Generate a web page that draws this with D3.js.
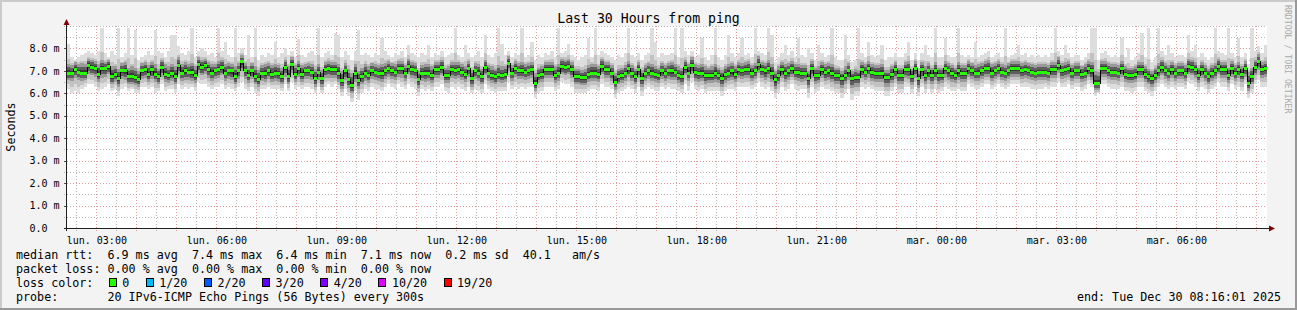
<!DOCTYPE html>
<html>
<head>
<meta charset="utf-8">
<script src="https://cdn.jsdelivr.net/npm/d3@7"></script>
<style>
html, body { margin: 0; padding: 0; background: #f3f3f3; }
svg { display: block; }
text { font-family: "DejaVu Sans Mono", monospace; white-space: pre; }
</style>
</head>
<body>
<div id="container"></div>
<script>
const WIDTH = 1297;
const HEIGHT = 310;
const PLOT_LEFT = 67;
const PLOT_RIGHT = 1267;
const PLOT_TOP = 26;
const PLOT_BOTTOM = 228;

// ---- data ----
const endTime = "2025-12-30T08:16:01Z";
const stepSeconds = 300;

// median rtt per 300s sample, ms
const medianRtt = [
  6.9,6.9,7.05,6.95,6.9,6.9,7.25,7.15,7.1,6.85,
  7.1,7.1,7.2,6.75,6.85,6.65,7.0,7.0,6.75,6.75,
  6.7,6.6,7.0,7.05,6.85,7.05,6.85,6.75,7.15,6.85,
  6.8,6.9,6.75,7.25,6.9,7.0,6.95,6.95,6.8,7.3,
  7.15,7.25,7.05,6.9,7.0,7.05,7.15,6.9,7.0,7.0,
  6.75,7.0,7.4,7.0,6.8,7.0,6.75,6.6,6.9,6.9,
  7.0,6.85,6.9,6.9,6.75,7.15,6.75,7.3,6.85,7.1,
  6.85,7.0,7.0,6.95,6.65,6.95,6.65,7.05,7.1,7.05,
  7.05,6.9,6.55,7.0,6.6,6.35,6.9,6.55,6.75,6.9,
  6.8,7.0,6.95,6.9,6.9,7.0,7.1,7.0,6.95,7.1,
  7.1,6.9,7.2,7.05,7.0,6.6,6.9,6.9,6.9,6.8,
  7.05,7.05,7.15,6.8,6.8,7.05,7.0,7.05,6.95,6.85,
  7.1,6.65,7.0,6.9,6.75,7.15,6.9,6.8,6.75,6.85,
  6.8,6.85,7.35,6.9,7.1,7.0,7.0,6.95,7.0,7.05,
  6.45,6.8,6.85,7.05,7.05,7.05,6.8,6.9,7.2,7.15,
  7.2,7.05,6.75,6.75,6.7,6.7,6.85,6.9,6.9,6.85,
  7.2,7.05,7.05,6.9,6.5,6.75,6.8,6.9,7.1,6.9,
  6.75,7.05,6.65,6.9,7.0,6.9,6.85,6.8,7.0,6.9,
  7.0,7.0,6.95,6.8,6.75,7.15,6.9,7.25,6.95,6.9,
  6.9,6.8,6.8,6.8,6.9,6.8,6.65,6.85,6.9,7.0,
  6.85,7.05,7.0,7.05,7.05,6.9,7.0,7.3,7.05,7.0,
  7.1,6.9,6.6,6.8,7.05,6.9,7.0,7.1,6.95,6.95,
  6.9,6.9,6.65,7.1,6.8,6.8,7.05,6.95,7.0,6.9,
  6.8,6.8,6.65,6.8,7.0,6.65,6.7,6.7,7.05,6.95,
  7.1,6.95,6.9,6.9,6.9,6.7,6.7,6.85,7.05,6.8,
  6.8,7.05,7.05,6.75,7.1,6.65,7.05,6.8,7.0,6.8,
  7.0,6.8,6.8,7.1,7.0,6.9,6.8,7.0,6.9,6.9,
  7.1,7.0,6.9,6.9,7.0,7.1,7.1,6.9,7.0,7.1,
  6.95,6.9,7.0,7.1,7.1,7.1,7.0,7.05,7.0,6.95,
  6.9,6.95,6.95,6.95,6.9,7.05,7.05,7.25,7.0,7.05,
  7.1,6.9,7.0,7.0,6.85,6.9,7.1,7.0,6.45,6.45,
  7.1,7.1,7.0,6.95,6.95,6.9,7.1,6.85,6.8,6.8,
  6.85,7.05,7.05,6.85,6.75,6.65,6.8,7.0,7.15,7.0,
  6.9,7.05,6.9,7.0,7.0,6.9,7.2,7.15,7.05,6.8,
  7.05,6.9,6.75,6.9,7.0,7.2,7.05,7.05,6.8,7.1,
  6.9,7.05,6.85,7.1,6.45,6.75,7.15,7.4,7.05,7.1
];

// slowest ping of each sample, ms
const maxRtt = [
  8.2,7.6,7.5,7.6,7.7,7.8,7.9,7.8,7.7,7.9,
  8.9,7.8,7.6,7.9,7.7,8.9,7.6,7.8,8.9,7.7,
  8.8,7.5,7.6,7.7,7.9,7.7,8.8,7.9,7.8,7.6,
  7.9,8.6,8.6,8.1,7.8,7.7,7.9,8.9,7.6,7.9,
  8.0,7.9,7.7,7.8,7.6,8.9,7.9,8.3,7.7,7.6,
  8.9,7.8,8.0,7.7,8.6,7.6,8.9,7.5,7.7,7.6,
  7.8,7.7,8.3,7.6,7.8,8.0,7.7,7.9,7.6,8.4,
  7.7,7.6,7.8,7.9,7.7,8.9,7.6,7.8,7.9,7.7,
  8.7,8.6,7.6,7.9,7.7,7.5,7.9,8.8,7.7,7.8,
  7.7,7.6,7.8,7.7,8.45,7.9,7.7,7.6,7.8,7.7,
  7.9,7.6,8.15,7.8,7.7,7.6,7.8,7.7,8.15,7.6,
  7.8,7.7,7.9,7.6,7.7,7.8,8.9,7.7,7.6,8.15,
  7.8,7.6,7.7,7.9,7.6,8.6,7.7,7.6,7.8,8.9,
  8.2,7.7,7.9,7.6,7.8,7.7,8.9,7.6,7.7,8.3,
  7.5,7.7,7.6,7.8,7.7,7.9,7.6,8.9,7.8,7.9,
  8.2,7.7,7.6,7.5,7.6,7.7,8.45,7.6,8.9,7.7,
  7.9,7.8,7.7,7.6,7.5,7.7,7.6,7.8,8.9,7.7,
  7.6,7.8,7.5,7.7,7.8,8.9,8.3,7.6,7.8,7.7,
  7.7,7.8,8.9,7.6,8.9,7.9,7.7,7.9,7.6,7.7,
  8.45,7.6,7.5,7.7,8.9,7.6,7.5,7.7,8.6,7.8,
  7.6,7.8,8.45,7.7,7.8,7.6,8.9,7.9,7.8,7.7,
  8.9,8.6,7.4,7.6,7.8,8.15,7.7,7.9,7.6,8.45,
  7.7,7.6,8.0,7.8,7.5,8.15,7.8,7.6,7.7,8.9,
  7.6,7.5,7.5,8.6,7.7,7.4,7.5,8.9,7.8,7.6,
  8.3,7.7,7.6,7.7,8.15,7.5,7.6,7.6,7.8,7.6,
  7.6,7.8,8.3,7.5,7.8,7.5,7.8,8.15,7.7,7.6,
  8.9,7.6,7.6,8.45,7.7,7.6,7.6,8.9,7.7,7.6,
  7.7,7.6,8.3,7.6,7.7,7.8,7.9,7.6,7.7,7.8,
  7.6,8.9,7.6,7.7,7.8,8.15,7.7,7.8,7.6,7.7,
  7.6,7.7,7.6,7.7,7.6,7.8,8.9,7.9,7.7,8.15,
  7.8,7.6,7.7,7.7,7.5,7.6,7.8,8.9,8.9,7.5,
  7.8,7.9,7.7,7.6,7.7,7.6,8.45,7.6,8.0,7.5,
  7.6,7.8,8.7,7.6,8.9,7.4,7.6,8.9,7.9,7.7,
  8.15,7.8,7.6,7.7,7.7,7.6,8.6,7.9,8.15,7.6,
  7.8,7.6,7.5,7.6,8.9,7.9,7.8,7.7,8.9,7.8,
  7.6,8.45,7.6,7.8,7.3,8.9,7.9,8.1,7.8,8.15
];

// upper edge of the dense smoke, ms
const highRtt = [
  7.3,7.25,7.4,7.3,7.35,7.3,7.55,7.5,7.45,7.3,
  7.5,7.4,7.5,7.2,7.2,7.1,7.35,7.4,7.15,7.2,
  7.15,7.0,7.35,7.4,7.25,7.4,7.3,7.1,7.5,7.3,
  7.2,7.3,7.2,7.6,7.3,7.4,7.3,7.35,7.2,7.6,
  7.5,7.55,7.4,7.3,7.3,7.45,7.5,7.3,7.35,7.3,
  7.2,7.35,7.7,7.35,7.2,7.35,7.2,7.05,7.25,7.3,
  7.35,7.25,7.3,7.25,7.15,7.5,7.2,7.6,7.25,7.45,
  7.25,7.3,7.35,7.3,7.1,7.3,7.05,7.4,7.45,7.4,
  7.4,7.3,7.0,7.35,7.1,6.9,7.3,7.0,7.15,7.3,
  7.2,7.35,7.3,7.25,7.3,7.35,7.45,7.35,7.3,7.45,
  7.45,7.25,7.55,7.4,7.35,7.0,7.25,7.3,7.3,7.2,
  7.4,7.4,7.5,7.15,7.2,7.4,7.4,7.4,7.3,7.2,
  7.45,7.05,7.35,7.3,7.1,7.5,7.25,7.2,7.1,7.25,
  7.2,7.2,7.65,7.25,7.45,7.35,7.4,7.3,7.35,7.4,
  6.9,7.15,7.2,7.4,7.4,7.4,7.2,7.3,7.55,7.5,
  7.55,7.4,7.1,7.1,7.05,7.1,7.25,7.3,7.3,7.2,
  7.55,7.4,7.4,7.25,6.9,7.1,7.15,7.25,7.45,7.25,
  7.1,7.4,7.05,7.25,7.35,7.3,7.2,7.15,7.35,7.25,
  7.35,7.4,7.3,7.2,7.15,7.5,7.3,7.6,7.3,7.25,
  7.3,7.2,7.15,7.2,7.3,7.15,7.05,7.2,7.3,7.35,
  7.2,7.4,7.35,7.4,7.45,7.25,7.35,7.65,7.4,7.35,
  7.5,7.3,7.0,7.2,7.4,7.3,7.35,7.45,7.3,7.3,
  7.25,7.25,7.0,7.45,7.15,7.2,7.4,7.3,7.35,7.3,
  7.15,7.15,7.0,7.2,7.35,7.0,7.1,7.05,7.4,7.3,
  7.45,7.3,7.25,7.25,7.3,7.05,7.05,7.2,7.4,7.15,
  7.15,7.4,7.45,7.1,7.45,7.0,7.4,7.2,7.35,7.15,
  7.4,7.15,7.15,7.45,7.35,7.25,7.15,7.4,7.25,7.25,
  7.45,7.35,7.25,7.3,7.35,7.45,7.5,7.3,7.35,7.45,
  7.3,7.25,7.35,7.45,7.45,7.45,7.35,7.4,7.35,7.3,
  7.25,7.3,7.3,7.3,7.25,7.4,7.4,7.6,7.35,7.4,
  7.45,7.25,7.35,7.35,7.2,7.3,7.45,7.4,7.0,6.95,
  7.45,7.45,7.35,7.3,7.3,7.25,7.45,7.2,7.15,7.15,
  7.2,7.4,7.4,7.2,7.1,7.0,7.15,7.35,7.5,7.35,
  7.25,7.4,7.25,7.35,7.35,7.25,7.55,7.5,7.4,7.15,
  7.4,7.25,7.1,7.25,7.35,7.55,7.4,7.4,7.15,7.45,
  7.25,7.4,7.2,7.45,6.95,7.15,7.5,7.75,7.4,7.45
];

// lower edge of the dense smoke, ms
const lowRtt = [
  6.6,6.55,6.7,6.6,6.55,6.6,6.85,6.8,6.75,6.5,
  6.7,6.75,6.85,6.4,6.5,6.3,6.65,6.6,6.4,6.4,
  6.35,6.3,6.65,6.7,6.5,6.65,6.5,6.4,6.75,6.5,
  6.45,6.55,6.4,6.85,6.55,6.6,6.6,6.55,6.45,6.9,
  6.8,6.85,6.7,6.55,6.65,6.7,6.8,6.55,6.65,6.6,
  6.4,6.65,7.0,6.65,6.45,6.65,6.4,6.3,6.55,6.5,
  6.65,6.5,6.55,6.5,6.4,6.75,6.4,6.9,6.5,6.75,
  6.5,6.65,6.65,6.6,6.3,6.6,6.3,6.7,6.7,6.7,
  6.7,6.5,6.2,6.6,6.25,6.0,6.5,6.2,6.4,6.55,
  6.45,6.65,6.6,6.55,6.5,6.65,6.75,6.65,6.6,6.75,
  6.7,6.55,6.85,6.7,6.65,6.25,6.55,6.5,6.55,6.45,
  6.7,6.7,6.8,6.45,6.45,6.7,6.65,6.7,6.6,6.5,
  6.75,6.3,6.65,6.55,6.4,6.8,6.55,6.45,6.4,6.5,
  6.45,6.5,7.0,6.55,6.75,6.65,6.65,6.6,6.65,6.7,
  6.1,6.45,6.5,6.7,6.7,6.7,6.45,6.55,6.85,6.8,
  6.85,6.7,6.4,6.4,6.35,6.35,6.5,6.55,6.55,6.5,
  6.85,6.7,6.7,6.55,6.15,6.4,6.45,6.55,6.75,6.55,
  6.4,6.7,6.3,6.55,6.65,6.55,6.5,6.45,6.65,6.55,
  6.65,6.6,6.6,6.45,6.35,6.8,6.55,6.85,6.55,6.5,
  6.55,6.4,6.45,6.45,6.5,6.45,6.3,6.45,6.55,6.6,
  6.5,6.7,6.65,6.7,6.7,6.55,6.65,6.9,6.7,6.6,
  6.7,6.5,6.2,6.4,6.7,6.5,6.6,6.75,6.6,6.55,
  6.5,6.55,6.25,6.7,6.4,6.45,6.7,6.55,6.6,6.5,
  6.4,6.4,6.25,6.4,6.6,6.25,6.3,6.3,6.7,6.6,
  6.7,6.55,6.5,6.5,6.5,6.3,6.3,6.45,6.65,6.4,
  6.4,6.7,6.65,6.35,6.7,6.25,6.65,6.4,6.6,6.4,
  6.6,6.4,6.45,6.7,6.6,6.5,6.45,6.6,6.5,6.5,
  6.75,6.65,6.55,6.55,6.65,6.75,6.75,6.55,6.65,6.75,
  6.6,6.55,6.65,6.75,6.75,6.75,6.65,6.7,6.65,6.6,
  6.55,6.6,6.6,6.6,6.55,6.7,6.7,6.9,6.65,6.7,
  6.75,6.55,6.65,6.65,6.5,6.55,6.75,6.6,6.15,6.15,
  6.75,6.75,6.65,6.6,6.6,6.55,6.75,6.5,6.45,6.45,
  6.5,6.7,6.7,6.5,6.4,6.3,6.45,6.65,6.8,6.65,
  6.55,6.7,6.55,6.65,6.65,6.55,6.85,6.8,6.7,6.45,
  6.7,6.55,6.4,6.55,6.65,6.85,6.7,6.7,6.45,6.75,
  6.55,6.7,6.5,6.75,6.1,6.4,6.8,7.05,6.7,6.75
];

// fastest ping of each sample, ms
const minRtt = [
  6.2,6.0,6.1,6.0,6.2,6.3,6.4,6.4,6.3,6.1,
  6.2,6.3,6.4,6.1,6.2,5.9,6.2,6.3,6.1,6.2,
  6.0,6.0,6.3,6.3,6.2,6.3,6.0,6.1,6.4,6.1,
  6.2,6.2,6.0,6.4,6.2,6.3,6.2,6.3,6.1,6.5,
  6.4,6.4,6.3,6.2,6.3,6.3,6.4,6.2,6.3,6.2,
  6.1,6.3,6.5,6.2,6.1,6.3,6.0,5.9,6.2,6.2,
  6.3,6.2,6.2,6.2,6.1,6.4,6.1,6.5,6.2,6.3,
  6.2,6.3,6.3,6.2,6.0,6.3,6.0,6.3,6.4,6.3,
  6.4,6.2,5.9,6.2,5.9,5.6,6.1,5.7,6.0,6.2,
  6.1,6.3,6.2,6.2,6.1,6.3,6.4,6.3,6.2,6.4,
  6.3,6.2,6.4,6.3,6.2,5.9,6.2,6.1,6.2,6.1,
  6.3,6.3,6.4,6.1,6.0,6.3,6.2,6.3,6.2,6.1,
  6.3,6.0,6.2,6.1,6.0,6.4,6.2,6.1,6.0,6.1,
  6.1,6.1,6.5,6.2,6.3,6.2,6.3,6.2,6.3,6.3,
  5.8,6.0,6.1,6.3,6.3,6.3,6.1,6.2,6.5,6.4,
  6.4,6.3,6.0,6.0,6.0,6.0,6.1,6.2,6.2,6.1,
  6.4,6.3,6.3,6.2,5.8,6.0,6.1,6.2,6.3,6.2,
  6.0,6.3,5.9,6.2,6.3,6.2,6.1,6.1,6.3,6.2,
  6.3,6.2,6.2,6.1,6.0,6.4,6.1,6.5,6.2,6.1,
  6.2,6.0,6.1,6.1,6.1,6.1,5.9,6.1,6.2,6.2,
  6.1,6.3,6.3,6.3,6.3,6.2,6.3,6.5,6.3,6.2,
  6.3,6.1,5.8,6.0,6.3,6.1,6.2,6.4,6.2,6.1,
  6.2,6.2,5.8,6.3,6.0,6.1,6.3,6.2,6.2,6.1,
  6.0,6.0,5.8,6.0,6.2,5.7,5.9,5.9,6.3,6.2,
  6.3,6.2,6.1,6.1,6.1,5.9,5.9,6.1,6.3,6.0,
  6.0,6.3,6.3,6.0,6.3,5.9,6.3,6.0,6.2,6.0,
  6.2,6.0,6.1,6.3,6.2,6.1,6.1,6.2,6.1,6.1,
  6.4,6.3,6.2,6.2,6.3,6.4,6.4,6.2,6.3,6.4,
  6.3,6.2,6.3,6.4,6.4,6.4,6.3,6.3,6.3,6.2,
  6.2,6.2,6.2,6.3,6.2,6.3,6.3,6.5,6.3,6.3,
  6.4,6.2,6.3,6.3,6.1,6.2,6.4,6.3,5.9,6.0,
  6.4,6.4,6.3,6.2,6.2,6.2,6.3,6.1,6.1,6.0,
  6.1,6.3,6.3,6.1,6.0,5.9,6.1,6.3,6.4,6.3,
  6.2,6.3,6.2,6.3,6.3,6.2,6.5,6.4,6.3,6.1,
  6.3,6.2,6.0,6.2,6.3,6.5,6.3,6.3,6.1,6.4,
  6.2,6.3,6.1,6.4,5.8,6.0,6.4,6.6,6.3,6.3
];

const yTickValues = [0, 1, 2, 3, 4, 5, 6, 7, 8];
const yTickLabels = ["0.0", "1.0 m", "2.0 m", "3.0 m", "4.0 m", "5.0 m", "6.0 m", "7.0 m", "8.0 m"];

const xTickTimes = ["2025-12-29T03:00", "2025-12-29T06:00", "2025-12-29T09:00", "2025-12-29T12:00", "2025-12-29T15:00",
  "2025-12-29T18:00", "2025-12-29T21:00", "2025-12-30T00:00", "2025-12-30T03:00", "2025-12-30T06:00"];
const xTickLabels = ["lun. 03:00", "lun. 06:00", "lun. 09:00", "lun. 12:00", "lun. 15:00",
  "lun. 18:00", "lun. 21:00", "mar. 00:00", "mar. 03:00", "mar. 06:00"];

const lossLabels = ["0", "1/20", "2/20", "3/20", "4/20", "10/20", "19/20"];
const lossColors = ["#26ff00", "#00b8ff", "#0059ff", "#5e00ff", "#7e00ff", "#dd00ff", "#ff0000"];

const titleText = "Last 30 Hours from ping";
const legendLines = [
  "median rtt:  6.9 ms avg  7.4 ms max  6.4 ms min  7.1 ms now  0.2 ms sd  40.1   am/s",
  "packet loss: 0.00 % avg  0.00 % max  0.00 % min  0.00 % now",
  "loss color:",
  "probe:       20 IPv6-ICMP Echo Pings (56 Bytes) every 300s"
];
const endText = "end: Tue Dec 30 08:16:01 2025";


var translate = function (x, y) {
    return "translate(" + x + "," + y + ")";
};

var drawChart = function () {
    var parseTick = d3.utcParse("%Y-%m-%dT%H:%M");
    var end = new Date(endTime);
    var n = medianRtt.length;
    var start = new Date(end.getTime() - n * stepSeconds * 1000);

    // one row per sample, starting at the beginning of its interval
    var samples = medianRtt.map(function (m, i) {
        return {
            t: new Date(start.getTime() + i * stepSeconds * 1000),
            t1: new Date(start.getTime() + (i + 1) * stepSeconds * 1000),
            med: m, max: maxRtt[i], hi: highRtt[i], lo: lowRtt[i], min: minRtt[i]
        };
    });
    var stepped = samples.concat([Object.assign({}, samples[n - 1], {t: end})]);

    var svg = d3.select("#container")
        .append("svg")
        .attr("width", WIDTH)
        .attr("height", HEIGHT);

    svg.append("rect").attr("width", WIDTH).attr("height", HEIGHT).attr("fill", "#f3f3f3");
    // 3d frame
    svg.append("path").attr("d", "M0,0H" + WIDTH + "V2H2V" + HEIGHT + "H0Z").attr("fill", "#cbcbcb");
    svg.append("path").attr("d", "M" + WIDTH + "," + HEIGHT + "H0V" + (HEIGHT - 2) + "H" + (WIDTH - 2) + "V0H" + WIDTH + "Z")
        .attr("fill", "#999999");

    var xScale = d3.scaleUtc().domain([start, end]).range([PLOT_LEFT, PLOT_RIGHT]);
    var yScale = d3.scaleLinear().domain([0, 9]).range([PLOT_BOTTOM, PLOT_TOP]);

    svg.append("rect")
        .attr("x", PLOT_LEFT).attr("y", PLOT_TOP)
        .attr("width", PLOT_RIGHT - PLOT_LEFT).attr("height", PLOT_BOTTOM - PLOT_TOP)
        .attr("fill", "#ffffff");

    // grid
    var grid = svg.append("g").attr("shape-rendering", "crispEdges").attr("stroke-dasharray", "1,2");
    var halfHours = d3.utcMinute.every(30).range(start, end).filter(function (d) { return d.getUTCMinutes() === 30; });
    var hours = d3.utcHour.range(start, end);
    var minorY = d3.range(0.5, 9.01, 1).concat([9]);
    var majorY = yTickValues.filter(function (v) { return v > 0; });

    grid.selectAll(".vminor").data(halfHours).enter().append("line")
        .attr("x1", function (d) { return Math.round(xScale(d)) + 0.5; })
        .attr("x2", function (d) { return Math.round(xScale(d)) + 0.5; })
        .attr("y1", PLOT_TOP).attr("y2", PLOT_BOTTOM + 3)
        .attr("stroke", "#b8b8b8");
    grid.selectAll(".hminor").data(minorY).enter().append("line")
        .attr("x1", PLOT_LEFT - 3).attr("x2", PLOT_RIGHT)
        .attr("y1", function (d) { return Math.round(yScale(d)) + 0.5; })
        .attr("y2", function (d) { return Math.round(yScale(d)) + 0.5; })
        .attr("stroke", "#b8b8b8");
    grid.selectAll(".vmajor").data(hours).enter().append("line")
        .attr("x1", function (d) { return Math.round(xScale(d)) + 0.5; })
        .attr("x2", function (d) { return Math.round(xScale(d)) + 0.5; })
        .attr("y1", PLOT_TOP).attr("y2", PLOT_BOTTOM + 3)
        .attr("stroke", "#e49a9a");
    grid.selectAll(".hmajor").data(majorY).enter().append("line")
        .attr("x1", PLOT_LEFT).attr("x2", PLOT_RIGHT)
        .attr("y1", function (d) { return Math.round(yScale(d)) + 0.5; })
        .attr("y2", function (d) { return Math.round(yScale(d)) + 0.5; })
        .attr("stroke", "#e49a9a");

    // smoke, from light outer band to dark core
    var band = function (lowFn, highFn) {
        return d3.area()
            .x(function (d) { return xScale(d.t); })
            .y0(function (d) { return yScale(lowFn(d)); })
            .y1(function (d) { return yScale(highFn(d)); })
            .curve(d3.curveStepAfter);
    };
    var smoke = svg.append("g").attr("shape-rendering", "crispEdges");
    smoke.append("path")
        .attr("d", band(function (d) { return d.min; }, function (d) { return d.max; })(stepped))
        .attr("fill", "#dddddd");
    smoke.append("path")
        .attr("d", band(function (d) { return (d.min + d.lo) / 2; }, function (d) { return d.hi + (d.max - d.hi) * 0.25; })(stepped))
        .attr("fill", "#c2c2c2");
    smoke.append("path")
        .attr("d", band(function (d) { return d.lo; }, function (d) { return d.hi; })(stepped))
        .attr("fill", "#9a9a9a");
    smoke.append("path")
        .attr("d", band(function (d) { return d.med - (d.med - d.lo) * 0.65; }, function (d) { return d.med + (d.hi - d.med) * 0.65; })(stepped))
        .attr("fill", "#5e5e5e");
    smoke.append("path")
        .attr("d", band(function (d) { return d.med - (d.med - d.lo) * 0.3; }, function (d) { return d.med + (d.hi - d.med) * 0.3; })(stepped))
        .attr("fill", "#363636");

    // median: thin black step plus loss coloured ticks
    var medLine = d3.line()
        .x(function (d) { return xScale(d.t); })
        .y(function (d) { return yScale(d.med); })
        .curve(d3.curveStepAfter);
    svg.append("path")
        .attr("d", medLine(stepped))
        .attr("fill", "none")
        .attr("stroke", "#000000")
        .attr("stroke-width", 1)
        .attr("shape-rendering", "crispEdges");

    svg.append("g").selectAll("rect").data(samples).enter().append("rect")
        .attr("x", function (d) { return xScale(d.t); })
        .attr("width", function (d) { return xScale(d.t1) - xScale(d.t); })
        .attr("y", function (d) { return yScale(d.med) - 1.5; })
        .attr("height", 3)
        .attr("fill", lossColors[0])
        .attr("shape-rendering", "crispEdges");

    // axes
    var tickDates = xTickTimes.map(parseTick);
    var xAxis = d3.axisBottom(xScale)
        .tickValues(tickDates)
        .tickFormat(function (d, i) { return xTickLabels[i]; })
        .tickSize(0)
        .tickPadding(9);
    var gx = svg.append("g").attr("transform", translate(0, PLOT_BOTTOM)).call(xAxis);
    gx.select(".domain").remove();
    gx.selectAll("text").attr("font-family", "DejaVu Sans Mono").attr("font-size", "10px").attr("fill", "#000");

    var yAxis = d3.axisLeft(yScale)
        .tickValues(yTickValues)
        .tickFormat(function (d, i) { return yTickLabels[i]; })
        .tickSize(3);
    var gy = svg.append("g").attr("transform", translate(PLOT_LEFT, 0)).call(yAxis);
    gy.select(".domain").remove();
    gy.selectAll("line").attr("stroke", "#555").attr("shape-rendering", "crispEdges");
    gy.selectAll("text")
        .attr("x", 29.5 - PLOT_LEFT)
        .attr("text-anchor", "start")
        .attr("font-family", "DejaVu Sans Mono")
        .attr("font-size", "10px")
        .attr("fill", "#000");

    // axis lines and arrows
    svg.append("line")
        .attr("x1", PLOT_LEFT - 3).attr("x2", PLOT_RIGHT + 4)
        .attr("y1", PLOT_BOTTOM + 0.5).attr("y2", PLOT_BOTTOM + 0.5)
        .attr("stroke", "#1f1f1f").attr("shape-rendering", "crispEdges");
    svg.append("line")
        .attr("x1", PLOT_LEFT - 0.5).attr("x2", PLOT_LEFT - 0.5)
        .attr("y1", PLOT_BOTTOM + 3).attr("y2", PLOT_TOP - 4)
        .attr("stroke", "#1f1f1f").attr("shape-rendering", "crispEdges");
    svg.append("path")
        .attr("d", d3.line()([[PLOT_RIGHT + 2, PLOT_BOTTOM - 2.5], [PLOT_RIGHT + 8, PLOT_BOTTOM + 0.5], [PLOT_RIGHT + 2, PLOT_BOTTOM + 3.5]]) + "Z")
        .attr("fill", "#7f0000");
    svg.append("path")
        .attr("d", d3.line()([[PLOT_LEFT - 3.5, PLOT_TOP - 1], [PLOT_LEFT - 0.5, PLOT_TOP - 7], [PLOT_LEFT + 2.5, PLOT_TOP - 1]]) + "Z")
        .attr("fill", "#7f0000");

    // texts
    svg.append("text")
        .attr("x", WIDTH / 2).attr("y", 23)
        .attr("text-anchor", "middle")
        .attr("font-size", "13.2px")
        .text(titleText);

    svg.append("text")
        .attr("transform", translate(15, 127) + " rotate(-90)")
        .attr("text-anchor", "middle")
        .attr("font-size", "11.7px")
        .text("Seconds");

    svg.append("text")
        .attr("transform", translate(1285, 5) + " rotate(90)")
        .attr("font-size", "8.2px")
        .attr("fill", "#aaaaaa")
        .text("RRDTOOL / TOBI OETIKER");

    var legend = svg.append("g").attr("font-size", "11.7px");
    legend.selectAll("text.line").data(legendLines).enter().append("text")
        .attr("class", "line")
        .attr("x", 16)
        .attr("y", function (d, i) { return 258.5 + i * 14; })
        .text(function (d) { return d; });

    var charW = 7.04;
    var pos = 108.7;
    lossLabels.forEach(function (lab, i) {
        legend.append("rect")
            .attr("x", Math.round(pos) + 0.5).attr("y", 278.5)
            .attr("width", 7).attr("height", 8)
            .attr("fill", lossColors[i])
            .attr("stroke", "#000")
            .attr("shape-rendering", "crispEdges");
        legend.append("text")
            .attr("x", pos + 13.5).attr("y", 286.5)
            .text(lab);
        pos += 30 + lab.length * charW;
    });

    legend.append("text")
        .attr("x", 1281).attr("y", 300.5)
        .attr("text-anchor", "end")
        .text(endText);
};

window.onload = drawChart;
</script>
</body>
</html>
